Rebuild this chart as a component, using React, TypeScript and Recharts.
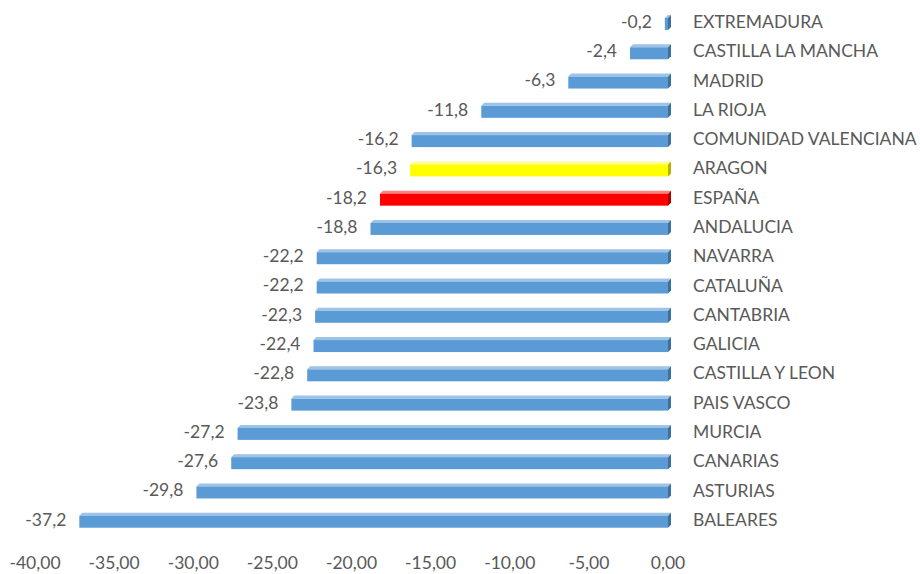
import React from "react";
import { BarChart, Bar, XAxis, YAxis, Cell, LabelList } from "recharts";

const regions = [
  "EXTREMADURA",
  "CASTILLA LA MANCHA",
  "MADRID",
  "LA RIOJA",
  "COMUNIDAD VALENCIANA",
  "ARAGON",
  "ESPAÑA",
  "ANDALUCIA",
  "NAVARRA",
  "CATALUÑA",
  "CANTABRIA",
  "GALICIA",
  "CASTILLA Y LEON",
  "PAIS VASCO",
  "MURCIA",
  "CANARIAS",
  "ASTURIAS",
  "BALEARES",
];
const changes = [
  -0.2, -2.4, -6.3, -11.8, -16.2, -16.3, -18.2, -18.8, -22.2, -22.2, -22.3, -22.4, -22.8, -23.8, -27.2,
  -27.6, -29.8, -37.2,
];
const xTicks = [-40, -35, -30, -25, -20, -15, -10, -5, 0];
const highlighted: Record<string, string> = { ARAGON: "yellow", "ESPAÑA": "red" };

const palette: Record<string, { front: string; top: string; side: string }> = {
  blue: { front: "#5b9bd5", top: "#9dc3e6", side: "#3f6f9c" },
  yellow: { front: "#ffff00", top: "#ffff99", side: "#b3b300" },
  red: { front: "#ff0000", top: "#ff8080", side: "#b00000" },
};

const data = regions.map((name, i) => ({ name, value: changes[i] }));

const FONT = "Lato, 'Open Sans', sans-serif";
const TEXT = "#595959";
const SIZE = 17.5;
const comma = (v: number, d: number) => v.toFixed(d).replace(".", ",");

function Bar3D(props: any) {
  const { x, y, width, height, payload } = props;
  const c = palette[highlighted[payload.name] || "blue"];
  const left = Math.min(x, x + width);
  const w = Math.abs(width);
  const d = 3;
  return (
    <g>
      <polygon
        points={`${left},${y + d} ${left + d},${y} ${left + w + d},${y} ${left + w},${y + d}`}
        fill={c.top}
      />
      <rect x={left} y={y + d} width={w} height={height - d} fill={c.front} />
      <polygon
        points={`${left + w},${y + d} ${left + w + d},${y} ${left + w + d},${y + height - d} ${left + w},${y + height}`}
        fill={c.side}
      />
    </g>
  );
}

function ValueLabel(props: any) {
  const { x, y, width, height, value } = props;
  const left = Math.min(x, x + width);
  return (
    <text
      x={left - 13}
      y={y + height / 2 + 1}
      textAnchor="end"
      dominantBaseline="middle"
      fill={TEXT}
      fontSize={SIZE}
      fontFamily={FONT}
    >
      {comma(value, 1)}
    </text>
  );
}

function RegionTick(props: any) {
  const { x, y, payload } = props;
  return (
    <text x={x + 17} y={y + 1} dominantBaseline="middle" fill={TEXT} fontSize={SIZE} fontFamily={FONT}>
      {payload.value}
    </text>
  );
}

function ValueTick(props: any) {
  const { x, y, payload } = props;
  return (
    <text x={x} y={y + 26} textAnchor="middle" fill={TEXT} fontSize={SIZE} fontFamily={FONT}>
      {comma(payload.value, 2)}
    </text>
  );
}

export default function App() {
  return (
    <div style={{ position: "absolute", left: 0, top: 0, background: "#fff", width: 920, height: 574 }}>
      <BarChart
        width={920}
        height={574}
        layout="vertical"
        data={data}
        margin={{ top: 8, right: 0, bottom: 0, left: 35 }}
        barSize={15}
      >
        <XAxis
          type="number"
          domain={[-40, 0]}
          ticks={xTicks}
          axisLine={false}
          tickLine={false}
          height={39}
          tick={<ValueTick />}
          interval={0}
        />
        <YAxis
          type="category"
          dataKey="name"
          orientation="right"
          width={252}
          axisLine={false}
          tickLine={false}
          tick={<RegionTick />}
          interval={0}
        />
        <Bar dataKey="value" isAnimationActive={false} shape={<Bar3D />}>
          {data.map((d) => (
            <Cell key={d.name} fill={palette[highlighted[d.name] || "blue"].front} />
          ))}
          <LabelList dataKey="value" content={<ValueLabel />} />
        </Bar>
      </BarChart>
    </div>
  );
}
